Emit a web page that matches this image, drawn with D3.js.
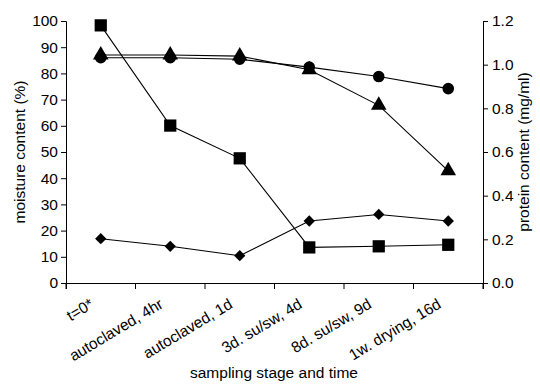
<!DOCTYPE html>
<html><head><meta charset="utf-8">
<script src="https://cdn.jsdelivr.net/npm/d3@7"></script>
<style>body{margin:0;background:#fff}svg{display:block}text{font-family:"Liberation Sans",Arial,sans-serif;fill:#000}</style>
</head><body><svg id="c" width="540" height="386"></svg>
<script>
const categories = ["t=0*","autoclaved, 4hr","autoclaved, 1d","3d. su/sw, 4d","8d. su/sw, 9d","1w. drying, 16d"];
const circleValues = [86.0, 86.0, 85.4, 82.4, 78.8, 74.2];      // moisture (%)
const triangleValues = [87.0, 87.0, 86.6, 81.4, 67.8, 42.8];    // moisture (%)
const squareValues = [1.180, 0.721, 0.571, 0.163, 0.168, 0.175]; // protein (mg/ml)
const diamondValues = [0.203, 0.168, 0.125, 0.284, 0.314, 0.284]; // protein (mg/ml)
const leftTicks = [0,10,20,30,40,50,60,70,80,90,100];
const rightTicks = [0.0,0.2,0.4,0.6,0.8,1.0,1.2];

const FS = 15.5;
const svg = d3.select("#c");
const L = 66, R = 483, T = 21, B = 283;
const x = d3.scaleBand().domain(categories).range([L, R]);
const yL = d3.scaleLinear().domain([0, 100]).range([B, T]);
const yR = d3.scaleLinear().domain([0, 1.2]).range([B, T]);

const gl = svg.append("g").attr("transform", `translate(${L},0)`)
  .call(d3.axisLeft(yL).tickValues(leftTicks).tickSize(5).tickPadding(3));
const gr = svg.append("g").attr("transform", `translate(${R},0)`)
  .call(d3.axisRight(yR).tickValues(rightTicks).tickSize(5).tickPadding(4).tickFormat(d3.format(".1f")));
const gb = svg.append("g").attr("transform", `translate(0,${B})`)
  .call(d3.axisBottom(x).tickSize(6).tickSizeOuter(6).tickFormat(""));
gb.selectAll(".tick").remove();
x.domain().forEach(c => {
  gb.append("line").attr("x1", x(c)).attr("x2", x(c)).attr("y1", 0).attr("y2", 6).attr("stroke", "#000");
});
gb.append("line").attr("x1", R).attr("x2", R).attr("y1", 0).attr("y2", 6).attr("stroke", "#000");

[gl, gr, gb].forEach(g => {
  g.attr("font-size", null).attr("font-family", null);
  g.selectAll("path,line").attr("stroke", "#000").attr("stroke-width", 1);
  g.selectAll("text").style("font-size", FS + "px");
});

svg.append("g").selectAll("text").data(categories).join("text")
  .attr("transform", d => `translate(${x(d) + x.bandwidth()/2 - 6},${B + 24}) rotate(-31)`)
  .attr("text-anchor", "end").style("font-size", FS + "px").text(d => d);

svg.append("text").attr("x", 274).attr("y", 378).attr("text-anchor", "middle").style("font-size", FS + "px").text("sampling stage and time");
svg.append("text").attr("transform", `translate(25,${(T+B)/2}) rotate(-90)`).attr("text-anchor", "middle").style("font-size", FS + "px").text("moisture content (%)");
svg.append("text").attr("transform", `translate(529,${(T+B)/2}) rotate(-90)`).attr("text-anchor", "middle").style("font-size", FS + "px").text("protein content (mg/ml)");

const cx = d => x(d) + x.bandwidth()/2;
function series(vals, yScale, shape, size, rot) {
  const pts = vals.map((v, i) => [cx(categories[i]), yScale(v)]);
  svg.append("path").attr("d", d3.line()(pts)).attr("fill", "none").attr("stroke", "#000").attr("stroke-width", 1.1);
  svg.append("g").selectAll("path").data(pts).join("path")
    .attr("transform", p => `translate(${p[0]},${p[1]}) rotate(${rot})`)
    .attr("d", d3.symbol().type(shape).size(size)).attr("fill", "#000");
}
series(triangleValues, yL, d3.symbolTriangle, 105, 0);
series(circleValues, yL, d3.symbolCircle, 105, 0);
series(squareValues, yR, d3.symbolSquare, 150, 0);
series(diamondValues, yR, d3.symbolSquare, 64, 45);
</script></body></html>
